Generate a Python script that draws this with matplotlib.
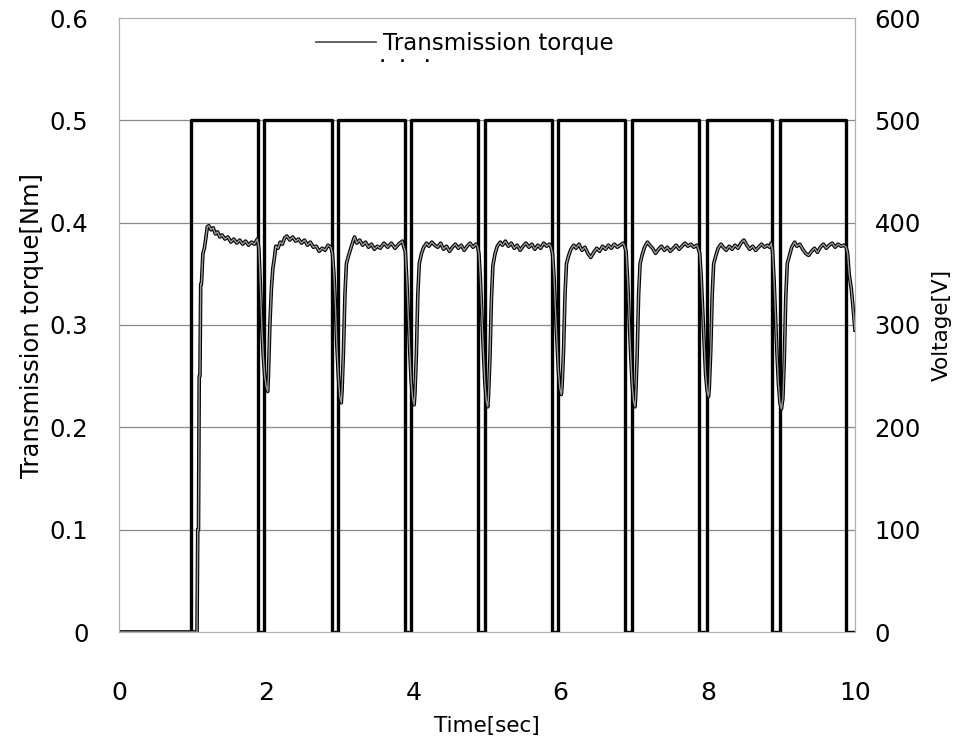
import matplotlib
matplotlib.use("Agg")
import matplotlib.pyplot as plt
from matplotlib.lines import Line2D

plt.rcParams['font.family'] = ['DejaVu Sans']

# ---------------- data ----------------
volt_t = [0.0, 0.98, 1.89, 1.97, 2.89, 2.97, 3.88, 3.97, 4.88, 4.97, 5.88, 5.97,
          6.88, 6.97, 7.88, 7.99, 8.87, 8.98, 9.88, 10.0]
volt_v = [0, 500, 0, 500, 0, 500, 0, 500, 0, 500, 0, 500,
          0, 500, 0, 500, 0, 500, 0, 0]

torque_t = [
    0.00, 1.06, 1.07, 1.08, 1.09, 1.10, 1.11, 1.12, 1.14, 1.16, 1.18, 1.20, 1.22, 1.25, 1.28,
    1.31, 1.34, 1.37, 1.40, 1.44, 1.48, 1.52, 1.56, 1.60, 1.64, 1.68, 1.72, 1.76, 1.80, 1.84, 1.88,
    1.90, 1.92, 1.94, 1.96, 1.98, 2.00, 2.02, 2.03, 2.05, 2.07, 2.09, 2.11, 2.13, 2.16, 2.19, 2.22,
    2.25, 2.28, 2.32, 2.36, 2.40, 2.44, 2.48, 2.52, 2.56, 2.60, 2.64, 2.68, 2.72, 2.76, 2.80, 2.84, 2.88,
    2.90, 2.92, 2.94, 2.96, 2.98, 3.00, 3.02, 3.03, 3.05, 3.07, 3.09, 3.12, 3.15, 3.18, 3.20, 3.23,
    3.27, 3.31, 3.35, 3.39, 3.43, 3.47, 3.51, 3.55, 3.60, 3.65, 3.70, 3.75, 3.80, 3.85, 3.87,
    3.89, 3.91, 3.93, 3.95, 3.97, 3.99, 4.01, 4.02, 4.04, 4.06, 4.08, 4.11, 4.14, 4.18, 4.21, 4.25,
    4.29, 4.33, 4.37, 4.41, 4.45, 4.49, 4.53, 4.57, 4.61, 4.65, 4.69, 4.73, 4.77, 4.81, 4.85, 4.87,
    4.89, 4.91, 4.93, 4.95, 4.97, 4.99, 5.01, 5.02, 5.04, 5.06, 5.08, 5.11, 5.14, 5.18, 5.21, 5.25,
    5.29, 5.33, 5.37, 5.41, 5.45, 5.49, 5.53, 5.57, 5.61, 5.65, 5.69, 5.73, 5.77, 5.81, 5.85, 5.87,
    5.89, 5.91, 5.93, 5.95, 5.97, 5.99, 6.01, 6.02, 6.04, 6.06, 6.08, 6.11, 6.14, 6.18, 6.21, 6.25,
    6.29, 6.33, 6.37, 6.41, 6.45, 6.49, 6.53, 6.57, 6.61, 6.65, 6.69, 6.73, 6.77, 6.81, 6.85, 6.87,
    6.89, 6.91, 6.93, 6.95, 6.97, 6.99, 7.01, 7.02, 7.04, 7.06, 7.08, 7.11, 7.14, 7.18, 7.21, 7.25,
    7.29, 7.33, 7.37, 7.41, 7.45, 7.49, 7.53, 7.57, 7.61, 7.65, 7.69, 7.73, 7.77, 7.81, 7.85, 7.87,
    7.89, 7.91, 7.93, 7.95, 7.97, 7.99, 8.01, 8.02, 8.04, 8.06, 8.08, 8.11, 8.14, 8.18, 8.21, 8.25,
    8.29, 8.33, 8.37, 8.41, 8.45, 8.49, 8.53, 8.57, 8.61, 8.65, 8.69, 8.73, 8.77, 8.81, 8.84, 8.86,
    8.88, 8.90, 8.92, 8.94, 8.96, 8.98, 9.00, 9.02, 9.04, 9.06, 9.08, 9.11, 9.14, 9.18, 9.21, 9.25,
    9.29, 9.33, 9.37, 9.41, 9.45, 9.49, 9.53, 9.57, 9.61, 9.65, 9.69, 9.73, 9.77, 9.81, 9.85, 9.88,
    9.90, 9.92, 9.95, 9.97, 10.00,
]
torque_v = [
    0.000, 0.000, 0.100, 0.100, 0.250, 0.250, 0.340, 0.340, 0.370, 0.375, 0.385, 0.396, 0.397, 0.393, 0.395,
    0.389, 0.391, 0.386, 0.388, 0.384, 0.386, 0.381, 0.384, 0.380, 0.383, 0.379, 0.382, 0.378, 0.381, 0.379, 0.384,
    0.375, 0.340, 0.300, 0.270, 0.250, 0.240, 0.235, 0.250, 0.300, 0.335, 0.355, 0.365, 0.377, 0.375, 0.381, 0.379,
    0.385, 0.387, 0.383, 0.386, 0.382, 0.384, 0.380, 0.383, 0.378, 0.381, 0.376, 0.377, 0.372, 0.375, 0.373, 0.378, 0.376,
    0.370, 0.350, 0.320, 0.280, 0.250, 0.230, 0.224, 0.235, 0.275, 0.330, 0.360, 0.368, 0.375, 0.382, 0.386, 0.380,
    0.383, 0.378, 0.381, 0.376, 0.379, 0.374, 0.377, 0.375, 0.380, 0.376, 0.380, 0.375, 0.379, 0.382, 0.376,
    0.372, 0.345, 0.310, 0.275, 0.245, 0.228, 0.222, 0.232, 0.270, 0.330, 0.360, 0.370, 0.376, 0.380, 0.377, 0.381,
    0.378, 0.376, 0.380, 0.374, 0.377, 0.372, 0.376, 0.379, 0.375, 0.378, 0.373, 0.377, 0.380, 0.376, 0.379, 0.377,
    0.370, 0.345, 0.310, 0.275, 0.245, 0.226, 0.220, 0.230, 0.268, 0.325, 0.358, 0.370, 0.377, 0.381, 0.378, 0.382,
    0.377, 0.380, 0.375, 0.378, 0.373, 0.377, 0.380, 0.376, 0.379, 0.374, 0.378, 0.375, 0.380, 0.377, 0.379, 0.376,
    0.370, 0.348, 0.315, 0.285, 0.255, 0.238, 0.232, 0.240, 0.275, 0.330, 0.360, 0.368, 0.374, 0.378, 0.375, 0.379,
    0.373, 0.376, 0.370, 0.366, 0.371, 0.375, 0.372, 0.377, 0.374, 0.378, 0.375, 0.379, 0.376, 0.378, 0.380, 0.377,
    0.372, 0.345, 0.310, 0.275, 0.245, 0.226, 0.220, 0.230, 0.270, 0.330, 0.360, 0.369, 0.376, 0.381, 0.378, 0.375,
    0.370, 0.374, 0.377, 0.373, 0.376, 0.372, 0.375, 0.378, 0.374, 0.377, 0.380, 0.377, 0.379, 0.376, 0.378, 0.375,
    0.370, 0.348, 0.315, 0.283, 0.252, 0.236, 0.230, 0.238, 0.275, 0.330, 0.360, 0.368, 0.375, 0.379, 0.376, 0.373,
    0.377, 0.374, 0.378, 0.375, 0.380, 0.383, 0.378, 0.374, 0.377, 0.373, 0.376, 0.379, 0.376, 0.378, 0.376, 0.380,
    0.372, 0.345, 0.308, 0.272, 0.242, 0.224, 0.218, 0.228, 0.268, 0.328, 0.360, 0.368, 0.376, 0.381, 0.377, 0.379,
    0.374, 0.370, 0.368, 0.372, 0.375, 0.371, 0.376, 0.379, 0.375, 0.378, 0.380, 0.376, 0.379, 0.377, 0.378, 0.376,
    0.370, 0.350, 0.335, 0.320, 0.295,
]

x_ticks = [0, 2, 4, 6, 8, 10]
y_ticks = [0, 0.1, 0.2, 0.3, 0.4, 0.5, 0.6]
y_labels = ["0", "0.1", "0.2", "0.3", "0.4", "0.5", "0.6"]
v_ticks = [0, 100, 200, 300, 400, 500, 600]
grid_levels = [100, 200, 300, 400, 500]

# ---------------- figure ----------------
fig = plt.figure(figsize=(9.72, 7.42), dpi=100)
ax = fig.add_axes([119 / 972, 1 - 632 / 742, (855 - 119) / 972, (632 - 18) / 742])
ax2 = ax.twinx()

ax.set_xlim(0, 10)
ax.set_ylim(0, 0.6)
ax2.set_ylim(0, 600)

for y in grid_levels:
    ax2.axhline(y, color='#8a8a8a', lw=0.9, zorder=1)

ax2.plot(volt_t, volt_v, drawstyle='steps-post', color='black', lw=2.4, zorder=3)
ax.plot(torque_t, torque_v, color='black', lw=2.6, zorder=2)
ax.plot(torque_t, torque_v, color='#9a9a9a', lw=1.0, zorder=2)
ax.set_zorder(ax2.get_zorder() + 1)
ax.patch.set_visible(False)

for a in (ax, ax2):
    for s in a.spines.values():
        s.set_color('#b0b0b0')
        s.set_linewidth(0.8)
    a.tick_params(length=0)

ax.set_xticks(x_ticks)
ax.set_xticklabels([str(v) for v in x_ticks])
ax.set_yticks(y_ticks)
ax.set_yticklabels(y_labels)
ax2.set_yticks(v_ticks)
ax2.set_yticklabels([str(v) for v in v_ticks])
ax.tick_params(axis='y', pad=22, labelsize=17.5)
ax2.tick_params(axis='y', pad=14, labelsize=17.5)
ax.tick_params(axis='x', pad=35, labelsize=18)

ax.set_xlabel("Time[sec]", fontsize=15.5, labelpad=8)
ax.set_ylabel("Transmission torque[Nm]", fontsize=17.5, labelpad=4)
ax2.set_ylabel("Voltage[V]", fontsize=15.5, labelpad=8)

h = [Line2D([0], [0], color='#555555', lw=1.3)]
leg = ax.legend(h, ["Transmission torque"], loc='upper left',
                bbox_to_anchor=(0.24, 1.01), frameon=False, fontsize=16.5,
                handlelength=2.6, handletextpad=0.3)
ax.text(0.355, 0.922, "·   ·    ·", transform=ax.transAxes, fontsize=10,
        color='black', fontweight='bold')

fig.savefig("out.png", dpi=100)
